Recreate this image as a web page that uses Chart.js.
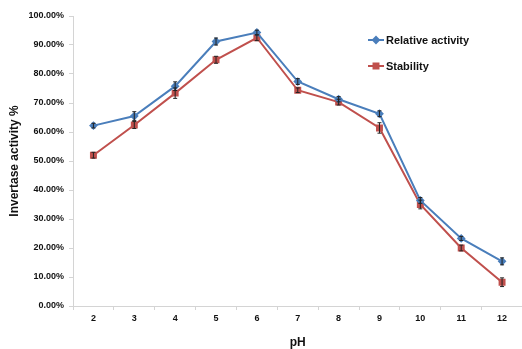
<!DOCTYPE html>
<html>
<head>
<meta charset="utf-8">
<script src="https://cdn.jsdelivr.net/npm/chart.js@4"></script>
<style>
  html, body { margin: 0; padding: 0; background: #fff; overflow: hidden; }
  #wrap { width: 528px; height: 349px; position: relative; }
</style>
</head>
<body>
<div id="wrap"><canvas id="myChart"></canvas></div>
<script>
const phLabels = ["2", "3", "4", "5", "6", "7", "8", "9", "10", "11", "12"];
const relativeActivity = [62.2, 65.5, 75.8, 91.2, 94.3, 77.4, 71.3, 66.3, 36.4, 23.3, 15.4];
const stability = [52.0, 62.4, 73.4, 84.9, 92.5, 74.4, 70.3, 61.4, 35.0, 20.0, 8.2];
const relativeErr = [0.8, 1.5, 1.5, 1.2, 0.8, 1.0, 0.9, 1.0, 1.0, 0.7, 1.2];
const stabilityErr = [1.0, 1.2, 1.8, 1.2, 1.0, 0.8, 1.0, 1.8, 1.5, 1.0, 1.5];

const blue = "#4a7ebb";
const red = "#c0504d";
const boldFont = "'Liberation Sans', Arial, sans-serif";

// small black error bars, drawn through the chart's own scales
const errorBars = {
  id: "errorBars",
  afterDatasetsDraw(chart) {
    const ctx = chart.ctx;
    const x = chart.scales.x, y = chart.scales.y;
    const sets = [[relativeActivity, relativeErr], [stability, stabilityErr]];
    ctx.save();
    ctx.strokeStyle = "#222";
    ctx.lineWidth = 1;
    sets.forEach(([vals, errs]) => {
      vals.forEach((v, i) => {
        const px = x.getPixelForValue(i);
        const top = y.getPixelForValue(v + errs[i]);
        const bot = y.getPixelForValue(v - errs[i]);
        ctx.beginPath();
        ctx.moveTo(px, top); ctx.lineTo(px, bot);
        ctx.moveTo(px - 2, top); ctx.lineTo(px + 2, top);
        ctx.moveTo(px - 2, bot); ctx.lineTo(px + 2, bot);
        ctx.stroke();
      });
    });
    ctx.restore();
  }
};

// legend drawn inside the plot, top right
const insideLegend = {
  id: "insideLegend",
  afterDraw(chart) {
    const ctx = chart.ctx;
    const items = [
      { text: "Relative activity", color: blue, style: "rectRot", r: 3, y: 40 },
      { text: "Stability", color: red, style: "rect", r: 3.5, y: 66 }
    ];
    ctx.save();
    items.forEach((it) => {
      ctx.strokeStyle = it.color;
      ctx.lineWidth = 2;
      ctx.beginPath();
      ctx.moveTo(368, it.y); ctx.lineTo(384, it.y);
      ctx.stroke();
      ctx.fillStyle = it.color;
      Chart.helpers.drawPoint(ctx, { pointStyle: it.style, radius: it.r, borderWidth: 1 }, 376, it.y);
      ctx.fill();
      ctx.fillStyle = "#111";
      ctx.font = "bold 11px " + boldFont;
      ctx.textBaseline = "middle";
      ctx.fillText(it.text, 386, it.y + 1);
    });
    ctx.restore();
  }
};

const ctx = document.getElementById("myChart").getContext("2d");
const data = {
  labels: phLabels,
  datasets: [
    {
      label: "Relative activity",
      data: relativeActivity,
      borderColor: blue,
      backgroundColor: blue,
      borderWidth: 2,
      pointStyle: "rectRot",
      pointRadius: 3,
      pointHoverRadius: 3,
      tension: 0,
    },
    {
      label: "Stability",
      data: stability,
      borderColor: red,
      backgroundColor: red,
      borderWidth: 2,
      pointStyle: "rect",
      pointRadius: 3.5,
      pointHoverRadius: 3.5,
      tension: 0,
    },
  ],
};
const config = {
  type: "line",
  data: data,
  options: {
    responsive: true,
    maintainAspectRatio: false,
    animation: false,
    layout: { padding: { top: 16, right: 0, bottom: 0, left: 0 } },
    plugins: { legend: { display: false }, tooltip: { enabled: false } },
    scales: {
      x: {
        offset: true,
        afterFit: (s) => { s.height = 43; },
        border: { color: "#d4d4d4", width: 1 },
        grid: { offset: true, drawOnChartArea: false, tickLength: 4, color: "#d4d4d4" },
        ticks: { color: "#111", font: { family: boldFont, size: 9, weight: "bold" }, padding: 3, maxRotation: 0 },
        title: {
          display: true, text: "pH", color: "#111",
          font: { family: boldFont, size: 12, weight: "bold" },
          padding: { top: 0, bottom: -1 }
        },
      },
      y: {
        min: 0,
        max: 100,
        afterFit: (s) => { s.width = 73; },
        border: { color: "#d4d4d4", width: 1 },
        grid: { drawOnChartArea: false, tickLength: 4, color: "#d4d4d4" },
        ticks: {
          stepSize: 10,
          color: "#111",
          padding: 5,
          font: { family: boldFont, size: 9, weight: "bold" },
          callback: (v) => v.toFixed(2) + "%",
        },
        title: {
          display: true, text: "Invertase activity %", color: "#111",
          font: { family: boldFont, size: 12, weight: "bold" },
          padding: { top: 7, bottom: 0 }
        },
      },
    },
  },
  plugins: [errorBars, insideLegend],
};
const myChart = new Chart(ctx, config);
</script>
</body>
</html>
